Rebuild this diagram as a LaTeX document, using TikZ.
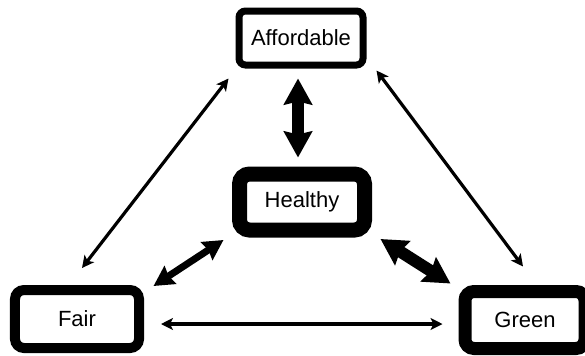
\documentclass[tikz,border=0pt]{standalone}
\usepackage{fontspec}
\setmainfont{Liberation Sans}
\usetikzlibrary{arrows.meta,calc}
\begin{document}
\begin{tikzpicture}[x=1bp,y=-1bp,
  box/.style={draw=black, fill=white, rectangle, inner sep=0pt,
    font=\fontsize{22bp}{26bp}\selectfont, text=black},
  thinarrow/.style={line width=3.2bp,
    {Stealth[length=12bp,width=12bp,inset=3bp]}-{Stealth[length=12bp,width=12bp,inset=3bp]}},
  medarrow/.style={line width=7bp,
    {Stealth[length=20bp,width=21bp,inset=2bp]}-{Stealth[length=20bp,width=21bp,inset=2bp]}},
  thickarrow/.style={line width=12bp,
    {Stealth[length=26bp,width=28bp,inset=3bp]}-{Stealth[length=26bp,width=28bp,inset=3bp]}}
]
\useasboundingbox (0,0) rectangle (585,355);
\fill[white] (0,0) rectangle (585,355);
\node[box, line width=7bp, rounded corners=6.5bp, minimum width=124bp, minimum height=54bp] (aff) at (301,38) {Affordable};
\node[box, line width=15bp, rounded corners=10bp, minimum width=125bp, minimum height=56bp] (hea) at (302,202) {Healthy};
\node[box, line width=10bp, rounded corners=9bp, minimum width=124bp, minimum height=58bp] (fair) at (77,319) {Fair};
\node[box, line width=13bp, rounded corners=9bp, minimum width=120bp, minimum height=57bp] (green) at (525,320) {Green};

\draw[thinarrow] ($(aff.south west)+(-7,10)$) -- ($(fair.north)+(5,-17)$);
\draw[thinarrow] ($(aff.south east)+(10,2)$) -- ($(green.north)+(-2,-18.5)$);
\draw[thinarrow] ($(fair.east)+(17,5)$) -- ($(green.west)+(-16,4)$);
\draw[thickarrow] ($(aff.south)+(-3,10)$) -- ($(hea.north)+(-4,-9)$);
\draw[medarrow] ($(hea.south west)+(-8.5,2.5)$) -- ($(fair.north east)+(9.5,1)$);
\draw[thickarrow] ($(hea.south east)+(8.5,1.5)$) -- ($(green.north west)+(-8,-1.5)$);
\end{tikzpicture}
\end{document}
